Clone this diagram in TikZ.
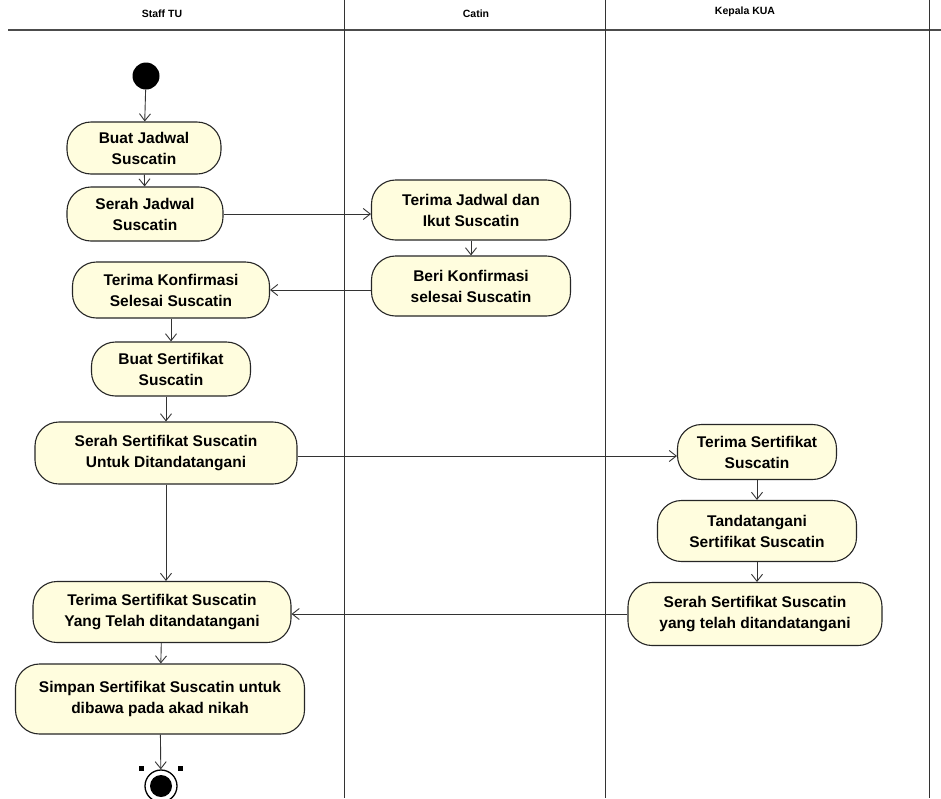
\documentclass[tikz,border=0pt]{standalone}
\usepackage{fontspec}
\setmainfont{Liberation Sans}
\usetikzlibrary{arrows.meta}
\definecolor{actfill}{RGB}{255,253,222}
\tikzset{
  act/.style={draw=black!85, line width=1.1pt, fill=actfill, rounded corners=24pt,
    align=center, font=\fontsize{15.5}{21}\selectfont\bfseries, inner sep=2pt},
  flow/.style={draw=black!80, line width=0.9pt, -{Straight Barb[length=7pt,width=11pt,line width=0.9pt]}},
  lane/.style={draw=black!80, line width=0.9pt},
  head/.style={font=\fontsize{10.5}{12}\selectfont\bfseries}
}
\begin{document}
\begin{tikzpicture}[x=1pt,y=-1pt]
\useasboundingbox[fill=white] (0,0) rectangle (941,798);
% swimlanes
\draw[black!70, line width=2.8pt] (8,30) -- (941,30);
\draw[lane] (344,0) -- (344,798);
\draw[lane] (605,0) -- (605,798);
\draw[lane] (929,0) -- (929,798);
\node[head] (h1) at (162,14) {Staff TU};
\node[head] (h2) at (476,14) {Catin};
\node[head] (h3) at (745,12) {Kepala KUA};
% start
\node[circle, fill=black, minimum size=27pt, inner sep=0pt] (start) at (146,76) {};
% actions
\node[act, minimum width=154pt, minimum height=52pt] (a1) at (144,148) {Buat Jadwal\\Suscatin};
\node[act, minimum width=156pt, minimum height=54pt] (a2) at (145,214) {Serah Jadwal\\Suscatin};
\node[act, minimum width=199pt, minimum height=60pt] (b1) at (471,210) {Terima Jadwal dan\\Ikut Suscatin};
\node[act, minimum width=199pt, minimum height=60pt] (b2) at (471,286) {Beri Konfirmasi\\selesai Suscatin};
\node[act, minimum width=197pt, minimum height=56pt] (a3) at (171,290) {Terima Konfirmasi\\Selesai Suscatin};
\node[act, minimum width=159pt, minimum height=54pt] (a4) at (171,369) {Buat Sertifikat\\Suscatin};
\node[act, minimum width=262pt, minimum height=62pt] (a5) at (166,453) {Serah Sertifikat Suscatin\\Untuk Ditandatangani};
\node[act, minimum width=159pt, minimum height=55pt] (c1) at (757,452) {Terima Sertifikat\\Suscatin};
\node[act, minimum width=199pt, minimum height=61pt] (c2) at (757,531) {Tandatangani\\Sertifikat Suscatin};
\node[act, minimum width=254pt, minimum height=63pt] (c3) at (755,614) {Serah Sertifikat Suscatin\\yang telah ditandatangani};
\node[act, minimum width=258pt, minimum height=61pt] (a6) at (162,612) {Terima Sertifikat Suscatin\\Yang Telah ditandatangani};
\node[act, minimum width=289pt, minimum height=70pt] (a7) at (160,699) {Simpan Sertifikat Suscatin untuk\\dibawa pada akad nikah};
% end
\node[circle, draw=black, line width=1.3pt, fill=white, minimum size=32pt, inner sep=0pt] (end) at (161,786) {};
\node[circle, fill=black, minimum size=22pt, inner sep=0pt] (endin) at (end.center) {};
\node[fill=black, minimum size=5pt, inner sep=0pt] (hl) at (141,768) {};
\node[fill=black, minimum size=5pt, inner sep=0pt] (hr) at (180,768) {};
% flows
\draw[flow] (start) -- (a1);
\draw[flow] (a1) -- (a2);
\draw[flow] (a2.east) -- (b1.west |- a2.east);
\draw[flow] (b1) -- (b2);
\draw[flow] (b2.west |- a3.east) -- (a3.east);
\draw[flow] (a3) -- (a4.north -| a3);
\draw[flow] (a4.south -| a5) -- (a5.north);
\draw[flow] (a5.east |- 0,456) -- (c1.west |- 0,456);
\draw[flow] (c1) -- (c2);
\draw[flow] (c2) -- (c3.north -| c2);
\draw[flow] (a5.south) -- (a6.north -| a5.south);
\draw[flow] (c3.west) -- (a6.east |- c3.west);
\draw[flow] (a6) -- (a7);
\draw[flow] (a7) -- (end);
\end{tikzpicture}
\end{document}
